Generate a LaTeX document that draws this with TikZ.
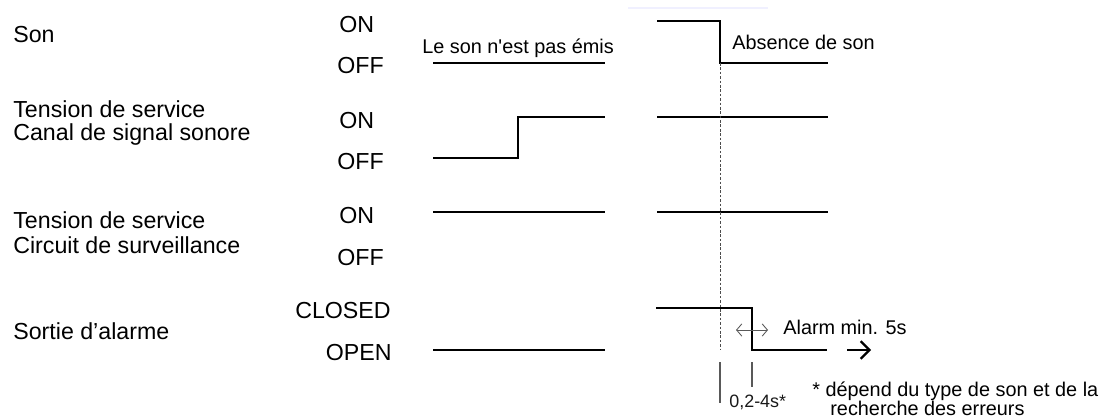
\documentclass[tikz,border=0pt]{standalone}
\usepackage{fontspec}
\setmainfont{Liberation Sans}
\usetikzlibrary{arrows.meta}
\begin{document}
\begin{tikzpicture}[x=0.02cm,y=-0.02cm,
    signal/.style={line width=1.6pt, line join=miter},
    biglbl/.style={font=\fontsize{13.2pt}{13.6pt}\selectfont, inner sep=0pt, anchor=base west},
    statelbl/.style={biglbl},
    notelbl/.style={font=\fontsize{11.3pt}{12pt}\selectfont, inner sep=0pt, anchor=base west},
    smalllbl/.style={font=\fontsize{10.2pt}{11pt}\selectfont, inner sep=0pt, anchor=base west, gray!20!black}]
    \useasboundingbox (0,0) rectangle (1101,419);
    % Decoration
    \draw[line width=1pt, blue!6] (628,8) -- (768,8);
    % Left labels
    \node[biglbl] (son) at (13,42) {Son};
    \node[biglbl] (tens1) at (13,117) {Tension de service};
    \node[biglbl] (canal) at (13,140) {Canal de signal sonore};
    \node[biglbl] (tens2) at (13,228) {Tension de service};
    \node[biglbl] (circ) at (13,253) {Circuit de surveillance};
    \node[biglbl] (sortie) at (13,339) {Sortie d’alarme};
    % States
    \node[statelbl] (on1) at (339,32) {ON};
    \node[statelbl] (off1) at (337,73) {OFF};
    \node[statelbl] (on2) at (339,128) {ON};
    \node[statelbl] (off2) at (337,169) {OFF};
    \node[statelbl] (on3) at (339,223) {ON};
    \node[statelbl] (off3) at (337,265) {OFF};
    \node[statelbl, anchor=base east] (closed) at (391,318) {CLOSED};
    \node[statelbl, anchor=base east] (open) at (392,360) {OPEN};
    % Signals
    \draw[signal] (433,63) -- (605,63);
    \draw[signal] (657,21) -- (720,21) -- (720,63) -- (828,63);
    \draw[signal] (433,158) -- (518,158) -- (518,117) -- (605,117);
    \draw[signal] (657,117) -- (828,117);
    \draw[signal] (433,212) -- (605,212);
    \draw[signal] (657,212) -- (828,212);
    \draw[signal] (433,350) -- (605,350);
    \draw[signal] (656,308) -- (752,308) -- (752,350) -- (827,350);
    \coordinate (arrA) at (847,350);
    \coordinate (arrB) at (871,350);
    \draw[line width=1.3pt, -{Straight Barb[length=5pt,width=10pt]}] (arrA) -- (arrB);
    % Timing marks
    \draw[gray!60!black, line width=0.5pt, dash pattern=on 1.5pt off 1pt] (720,63) -- (720,350);
    \draw[gray!70!black, line width=0.5pt, {Straight Barb[length=3pt,width=7pt]}-{Straight Barb[length=3pt,width=7pt]}] (736,330) -- (768,330);
    \draw[gray!70!black, line width=0.6pt] (720,362) -- (720,403);
    \draw[gray!70!black, line width=0.6pt] (752,362) -- (752,387);
    % Notes
    \node[notelbl] (nosound) at (422,53) {Le son n\textquotesingle est pas émis};
    \node[notelbl] (absent) at (732,49) {Absence de son};
    \node[notelbl] (alarm) at (783,334) {Alarm min. 5s};
    \node[smalllbl] (delay) at (729,407) {0,2-4s*};
    \node[notelbl] (foot1) at (812,396) {* dépend du type de son et de la};
    \node[notelbl] (foot2) at (830,415) {recherche des erreurs};
\end{tikzpicture}
\end{document}
